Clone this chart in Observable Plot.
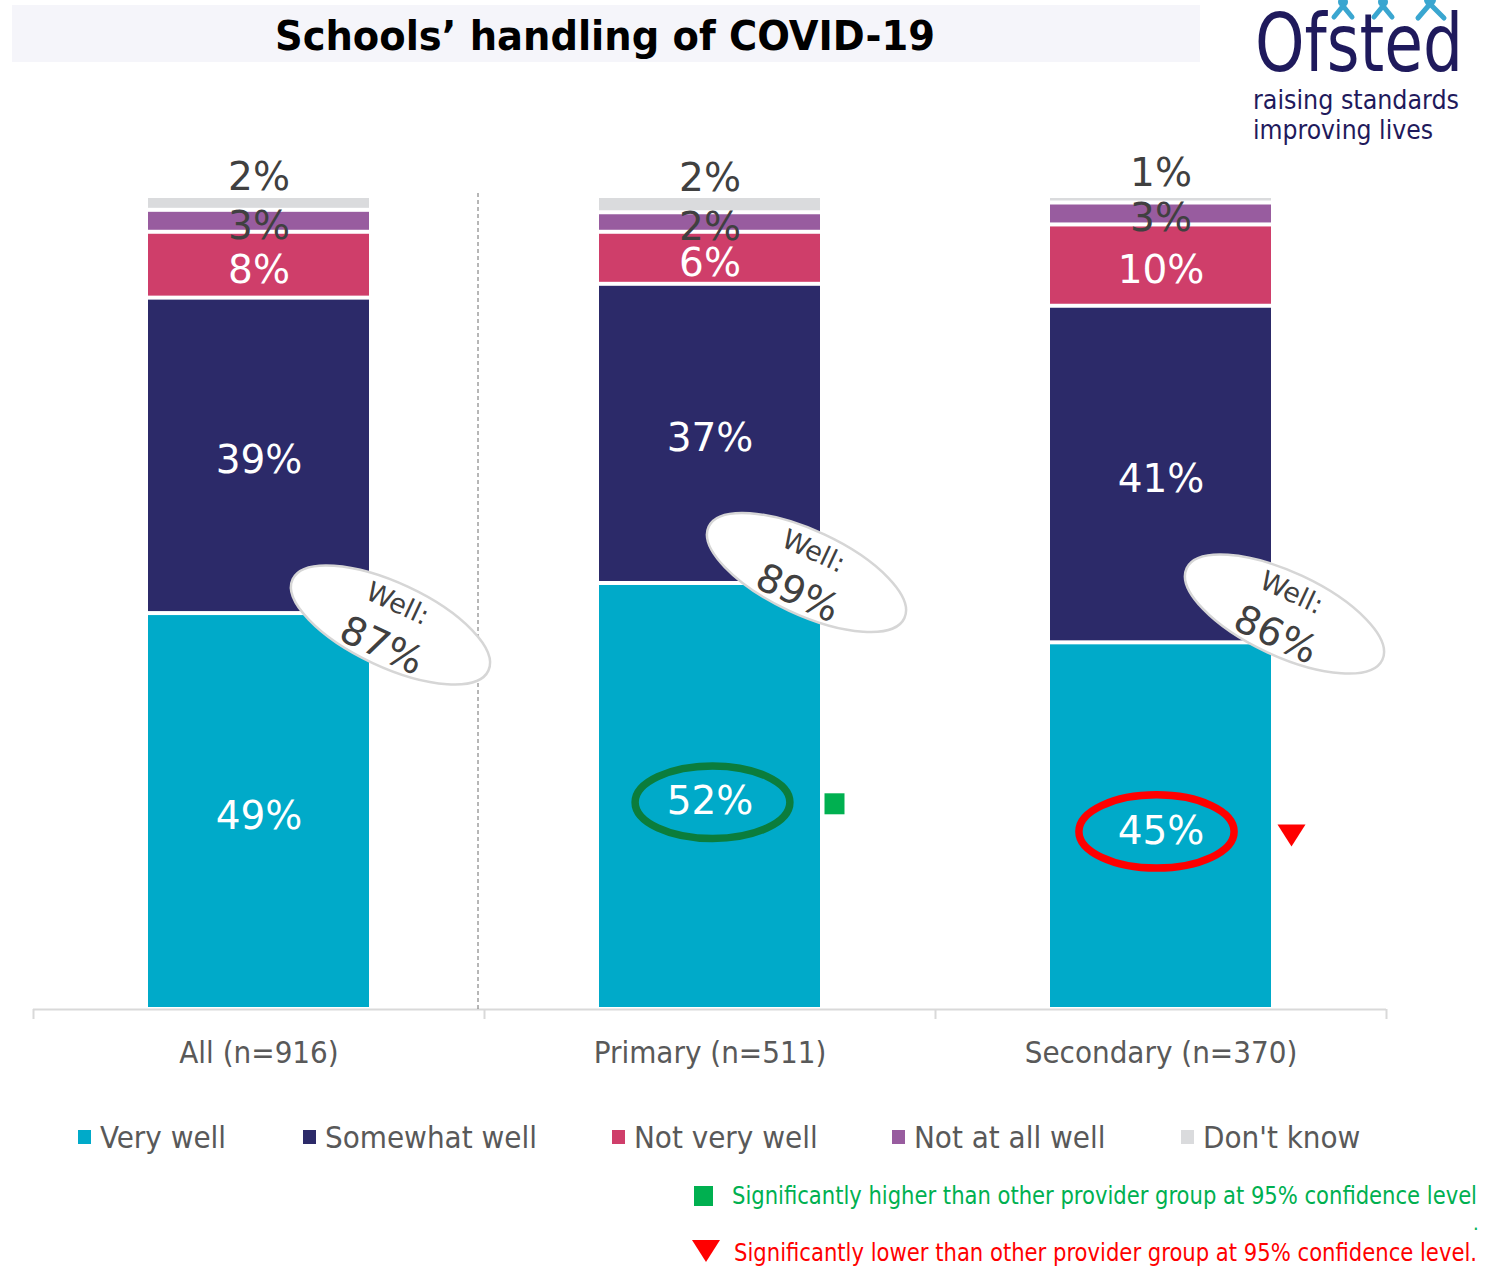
<!DOCTYPE html>
<html>
<head>
<meta charset="utf-8">
<script src="https://cdn.jsdelivr.net/npm/d3@7"></script>
<script src="https://cdn.jsdelivr.net/npm/@observablehq/plot@0.6"></script>
<style>
  html, body { margin: 0; padding: 0; background: #fff; }
  #root { position: relative; width: 1496px; height: 1266px; overflow: hidden;
          font-family: "DejaVu Sans Condensed", "DejaVu Sans", sans-serif; }
  #chart { position: absolute; left: 0; top: 0; }
  .abs { position: absolute; white-space: nowrap; line-height: 1; }
  #titlebar { position: absolute; left: 12px; top: 5px; width: 1188px; height: 57px; background: #F5F5FA; }
</style>
</head>
<body>
<div id="root">
  <div id="chart"></div>
  <div id="titlebar"></div>
  <span id="title" class="abs" style="left:275px;top:16px;font-size:40px;font-weight:bold;color:#000;">Schools’ handling of COVID-19</span>
  <svg class="abs" style="left:1320px;top:0" width="150" height="22">
    <g stroke="#3AA6D0" stroke-width="5" stroke-linecap="round" fill="#3AA6D0">
      <circle cx="23" cy="2" r="5" stroke="none"/>
      <path d="M23 6 L14 17 M23 6 L32 17" fill="none"/>
      <circle cx="63" cy="2" r="5" stroke="none"/>
      <path d="M63 6 L54 17 M63 6 L72 17" fill="none"/>
      <circle cx="110" cy="0" r="6" stroke="none"/>
      <path d="M110 4 L98 18 M110 4 L124 18" fill="none"/>
    </g>
  </svg>
  <span id="logo1" class="abs" style="left:1255px;top:12px;font-size:80px;line-height:0.8;color:#1F1A5C;">Ofsted</span>
  <span id="logo2" class="abs" style="left:1253px;top:87px;font-size:26px;color:#1F1A5C;">raising standards</span>
  <span id="logo3" class="abs" style="left:1253px;top:117px;font-size:26px;color:#1F1A5C;">improving lives</span>
  <div id="legend"></div>
  <div class="abs" style="left:694px;top:1186px;width:19px;height:20px;background:#00B050;"></div>
  <span id="sig1" class="abs" style="left:732px;top:1184px;font-size:24px;color:#00B050;">Significantly higher than other provider group at 95% confidence level</span>
  <span class="abs" style="left:1473px;top:1213px;font-size:20px;color:#00B050;">.</span>
  <svg class="abs" style="left:690px;top:1238px" width="32" height="26"><polygon points="2,2 30,2 16,24" fill="#FF0000"/></svg>
  <span id="sig2" class="abs" style="left:734px;top:1241px;font-size:24px;color:#FF0000;">Significantly lower than other provider group at 95% confidence level.</span>
</div>
<script>
// ---------- data ----------
const groups = ["All (n=916)", "Primary (n=511)", "Secondary (n=370)"];
const series = ["Very well", "Somewhat well", "Not very well", "Not at all well", "Don't know"];
const veryWell     = [48.7, 52.4, 45.1];
const somewhatWell = [38.8, 36.8, 41.4];
const notVeryWell  = [8.1, 6.4, 10.0];
const notAtAllWell = [2.7, 2.4, 2.7];
const dontKnow     = [1.7, 2.0, 0.8];
const wellTotals   = [87, 89, 86];
const significance = [null, "higher", "lower"];

// ---------- styles ----------
const colors = ["#00AAC9", "#2C2A69", "#CF3E6A", "#985C9F", "#DADBDD"];
const FONT = '"DejaVu Sans Condensed", "DejaVu Sans", sans-serif';
const LABEL_FONT = '"DejaVu Sans", sans-serif';
const wellOffsets = [[131.5, 11.4], [96.5, -11], [123.5, -28.8]];

// ---------- derived table ----------
const seriesValues = [veryWell, somewhatWell, notVeryWell, notAtAllWell, dontKnow];
const rows = [];
groups.forEach((g, i) => {
  const total = d3.sum(seriesValues, arr => arr[i]);
  let cum = 0;
  seriesValues.forEach((arr, j) => {
    const v = arr[i];
    rows.push({group: g, series: series[j], si: j, value: v, label: Math.round(v) + "%",
               y1: cum / total, y2: (cum + v) / total, mid: (cum + v / 2) / total, sig: significance[i]});
    cum += v;
  });
});
const veryRows = rows.filter(d => d.si === 0);
const wellRows = groups.map((g, i) => ({group: g, top: veryRows[i].y2, well: wellTotals[i] + "%"}));

// custom symbols
function ellipseSymbol(rx, ry, deg) {
  const a = deg * Math.PI / 180, c = Math.cos(a), s = Math.sin(a), k = 0.5522847498;
  const P = (u, v) => [u * c - v * s, u * s + v * c];
  return {draw(ctx) {
    ctx.moveTo(...P(rx, 0));
    ctx.bezierCurveTo(...P(rx, k * ry), ...P(k * rx, ry), ...P(0, ry));
    ctx.bezierCurveTo(...P(-k * rx, ry), ...P(-rx, k * ry), ...P(-rx, 0));
    ctx.bezierCurveTo(...P(-rx, -k * ry), ...P(-k * rx, -ry), ...P(0, -ry));
    ctx.bezierCurveTo(...P(k * rx, -ry), ...P(rx, -k * ry), ...P(rx, 0));
    ctx.closePath();
  }};
}
const rectSymbol = (w, h) => ({draw(ctx) { ctx.moveTo(-w/2, -h/2); ctx.lineTo(w/2, -h/2); ctx.lineTo(w/2, h/2); ctx.lineTo(-w/2, h/2); ctx.closePath(); }});
const downTriangle = (w, h) => ({draw(ctx) { ctx.moveTo(-w/2, -h/2); ctx.lineTo(w/2, -h/2); ctx.lineTo(0, h/2); ctx.closePath(); }});

const wellMarks = wellRows.flatMap((d, i) => {
  const [dx, dy] = wellOffsets[i];
  return [
    Plot.dot([d], {x: "group", y: "top", r: 10, symbol: ellipseSymbol(108, 42, 25), fill: "white", stroke: "#D6D6D6", strokeWidth: 2.5, dx, dy}),
    Plot.text([d], {x: "group", y: "top", text: () => "Well:", rotate: 25, fontSize: 27, fontFamily: LABEL_FONT, fill: "#404040", dx: dx + 7, dy: dy - 21}),
    Plot.text([d], {x: "group", y: "top", text: "well", rotate: 25, fontSize: 39, fontFamily: LABEL_FONT, fill: "#404040", dx: dx - 9, dy: dy + 21})
  ];
});

const half = 225.5;
const chart = Plot.plot({
  width: 1496, height: 1090,
  marginTop: 196, marginBottom: 81, marginLeft: 33, marginRight: 110,
  style: {fontFamily: FONT, background: "transparent", overflow: "visible"},
  x: {domain: groups, paddingInner: 0.51, paddingOuter: 0.255},
  y: {domain: [0, 1], axis: null},
  color: {domain: series, range: colors},
  marks: [
    Plot.ruleY([0], {stroke: "#D9D9D9", strokeWidth: 2}),
    Plot.ruleX(groups, {x: d => d, y1: 0, y2: 0, insetBottom: -10, dx: -half, stroke: "#D9D9D9", strokeWidth: 2}),
    Plot.ruleX(groups.slice(-1), {x: d => d, y1: 0, y2: 0, insetBottom: -10, dx: half, stroke: "#D9D9D9", strokeWidth: 2}),
    Plot.ruleX(groups.slice(0, 1), {x: d => d, y1: 1, y2: 0, insetTop: -3, insetBottom: -2, dx: 219, stroke: "#6F6F6F", strokeWidth: 1, strokeDasharray: "4,3"}),
    Plot.barY(rows, {x: "group", y1: "y1", y2: "y2", fill: "series", insetTop: 2, insetBottom: 2}),
    Plot.axisX({tickSize: 0, tickPadding: 31, fontSize: 31, fill: "#595959", label: null}),
    ...wellMarks,
    Plot.text(rows, {filter: d => d.si < 3, x: "group", y: "mid", text: "label", fill: "white", fontSize: 39, fontFamily: LABEL_FONT, dy: 5}),
    Plot.text(rows, {filter: d => d.si === 3, x: "group", y: "mid", text: "label", fill: "#404040", fontSize: 39, fontFamily: LABEL_FONT, dy: 5}),
    Plot.text(rows, {filter: d => d.si === 4, x: "group", y: "mid", text: "label", fill: "#404040", fontSize: 39, fontFamily: LABEL_FONT, dy: -26}),
    Plot.dot(veryRows, {filter: d => d.sig === "higher", x: "group", y: "mid", r: 10, symbol: ellipseSymbol(77.4, 36.3, 0), fill: "none", stroke: "#0B7D3C", strokeWidth: 7.5, dx: 2.5, dy: 5.7}),
    Plot.dot(veryRows, {filter: d => d.sig === "higher", x: "group", y: "mid", r: 10, symbol: rectSymbol(20, 21), fill: "#00B050", dx: 124.5, dy: 7.3}),
    Plot.dot(veryRows, {filter: d => d.sig === "lower", x: "group", y: "mid", r: 10, symbol: ellipseSymbol(77.6, 36.6, 0), fill: "none", stroke: "#FF0000", strokeWidth: 7.5, dx: -4.5, dy: 5.3}),
    Plot.dot(veryRows, {filter: d => d.sig === "lower", x: "group", y: "mid", r: 10, symbol: downTriangle(28, 22), fill: "#FF0000", dx: 130.5, dy: 9.3})
  ]
});
document.getElementById("chart").appendChild(chart);

// legend
const legendX = [78, 303, 612, 892, 1181];
const legend = document.getElementById("legend");
series.forEach((s, j) => {
  const sw = document.createElement("div");
  sw.className = "abs";
  sw.style.cssText = `left:${legendX[j]}px;top:1130px;width:13px;height:14px;background:${colors[j]};`;
  legend.appendChild(sw);
  const t = document.createElement("span");
  t.className = "abs";
  t.style.cssText = `left:${legendX[j] + 22}px;top:1122px;font-size:31px;color:#595959;`;
  t.textContent = s;
  legend.appendChild(t);
});

function fit(id, w) {
  const el = document.getElementById(id);
  el.style.display = "inline-block";
  const r = el.getBoundingClientRect().width;
  el.style.transformOrigin = "left center";
  el.style.transform = `scaleX(${w / r})`;
}
fit("title", 660);
fit("logo1", 208);
fit("logo2", 206);
fit("logo3", 180);
fit("sig1", 745);
fit("sig2", 743);
</script>
</body>
</html>
